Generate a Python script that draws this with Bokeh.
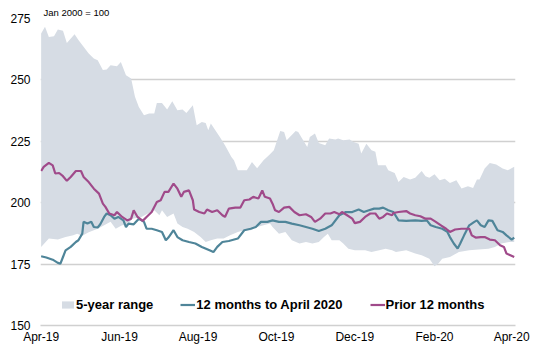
import numpy as np
from bokeh.plotting import figure
from bokeh.models import (FixedTicker, DatetimeTickFormatter, Legend, LegendItem, Range1d)
from bokeh.embed import file_html
from bokeh.resources import INLINE

# ---- data (day offsets from 2019-04-01, index Jan 2000 = 100) ----
upper_days = [0,3,6,10,13,17,20,26,29,37,41,44,48,51,54,59,62,66,70,73,76,80,84,88,90,94,98,102,106,110,
              113,118,121,125,128,130,132,139,143,148,150,153,160,164,168,173,178,181,186,189,191,198,200,203,
              207,209,213,216,221,224,229,231,235,240,243,247,249,253,257,260,262,268,270,275,278,282,287,291,
              296,299,302,306,310,314,318,323,327,332,336,339,341,345,349,354,359,363,368]
upper_vals = [268.9,271.6,267.5,267.8,270.5,270.0,265.0,268.6,266.2,260.7,258.7,258.0,254.0,254.2,256.0,255.6,
              257.3,251.9,250.6,243.1,239.0,235.6,236.3,236.3,240.6,240.6,237.9,241.3,237.6,237.9,236.5,239.7,
              231.5,232.9,232.5,229.5,232.2,226.8,223.4,218.6,217.3,213.2,213.2,216.6,214.0,217.3,219.7,221.4,
              229.2,228.8,225.4,229.2,228.8,226.1,222.7,226.8,228.2,224.3,223.4,226.1,225.7,226.1,225.4,225.7,
              224.7,224.0,220.0,224.0,221.4,220.7,215.2,215.2,213.2,212.1,208.4,210.5,209.4,210.2,212.9,210.8,
              210.2,211.6,209.1,209.8,208.0,209.1,205.8,206.7,206.0,209.4,209.4,213.9,216.2,215.6,213.9,213.2,214.6]

lower_days = [0,6,13,19,25,28,32,37,44,49,54,58,63,67,71,78,83,88,92,94,98,103,106,110,114,119,124,128,132,137,
              142,147,153,158,163,168,173,178,180,185,190,195,201,206,211,216,220,223,226,232,235,239,244,252,257,
              263,268,273,276,284,291,296,302,306,309,312,318,325,333,340,348,353,358,364,368]
lower_vals = [182.0,185.4,185.0,186.0,186.7,187.4,186.5,188.0,189.4,190.8,192.2,189.4,190.8,191.0,193.5,194.2,
              195.6,196.9,194.9,196.9,194.2,195.6,191.5,190.1,189.4,188.1,186.0,184.0,184.7,185.4,185.4,186.7,
              188.1,188.8,188.8,190.1,190.8,191.5,190.1,187.4,188.1,184.7,183.4,184.0,183.4,184.0,186.0,187.4,
              184.7,184.7,183.4,181.3,180.6,180.6,179.9,180.6,181.3,180.6,179.9,180.6,179.3,178.6,177.2,174.1,
              175.2,177.2,177.9,179.9,180.6,180.9,181.3,182.0,183.4,184.0,184.0]

recent_days = [0,4,9,13,15,17,19,23,27,29,32,33,36,39,41,44,46,49,51,54,57,60,64,66,68,72,76,80,82,86,90,94,97,99,
               103,106,110,115,120,125,131,134,137,141,146,153,158,163,167,171,176,180,185,190,195,201,206,211,216,
               221,226,232,237,242,247,251,255,259,263,266,270,274,278,284,291,296,300,303,307,312,316,318,321,324,
               326,329,333,337,339,342,345,348,351,355,359,362,366,368]
recent_vals = [178.2,177.7,176.8,175.5,175.2,177.9,180.6,182.0,184.0,184.7,187.4,192.2,191.5,192.2,190.1,189.9,
               191.2,194.2,195.6,194.9,193.5,194.2,192.8,190.1,191.5,191.2,193.5,192.2,189.4,189.4,188.8,188.1,
               184.7,185.8,188.8,186.0,184.7,184.0,183.4,182.0,180.6,179.9,182.0,184.0,184.4,185.4,188.8,189.4,
               190.1,192.2,192.2,192.8,192.2,192.2,191.5,190.8,190.1,189.4,188.5,189.4,190.8,194.9,196.2,196.2,
               197.2,196.2,196.9,197.6,197.6,198.0,196.9,196.2,192.8,192.6,192.8,192.6,192.8,190.8,190.1,189.4,
               188.1,186.0,183.4,181.3,183.4,186.7,190.8,192.2,192.8,190.8,190.1,192.8,192.6,188.8,188.1,186.7,
               185.0,185.8]

prior_days = [0,2,6,9,11,14,17,20,23,27,31,33,37,41,45,48,50,53,57,59,63,67,70,72,75,79,82,86,90,93,96,99,103,106,
              109,111,115,118,119,123,127,129,133,137,141,143,146,151,155,158,162,165,169,172,174,178,180,182,185,
              189,193,197,201,206,210,213,217,221,225,228,232,234,238,242,244,248,252,256,260,263,266,269,273,274,
              278,284,287,291,295,299,303,307,311,315,318,322,327,333,335,338,342,345,349,353,357,360,362,365,368]
prior_vals = [212.9,214.6,216.2,215.2,211.9,212.1,210.8,208.9,210.5,212.9,212.9,210.5,208.4,205.7,203.7,199.6,
              198.3,195.6,194.9,196.2,194.2,192.8,193.5,196.9,194.2,192.6,194.2,196.2,200.3,201.0,204.4,204.4,
              207.8,205.7,202.4,204.4,205.0,201.0,197.2,196.2,195.6,197.2,196.2,196.9,194.9,194.2,197.6,198.0,
              198.0,201.0,201.3,202.4,201.7,205.0,202.4,201.7,199.6,196.9,196.2,198.0,198.3,196.2,194.9,195.3,
              194.2,192.2,193.5,195.6,195.6,196.2,195.3,196.2,194.9,193.5,191.7,192.2,194.2,195.6,195.6,193.5,
              194.2,195.6,194.9,195.8,196.2,196.6,195.6,194.9,194.5,193.5,193.5,192.2,190.8,189.4,188.1,189.1,
              189.4,189.4,186.7,185.8,186.0,186.0,185.0,184.7,182.7,182.0,179.3,178.6,177.9]

tick_dates = ["2019-04-01", "2019-06-01", "2019-08-01", "2019-10-01", "2019-12-01", "2020-02-01", "2020-04-01"]
y_ticks = [150, 175, 200, 225, 250, 275]
series_names = ["5-year range", "12 months to April 2020", "Prior 12 months"]
note_text = "Jan 2000 = 100"

START = np.datetime64("2019-04-01")


def to_dates(days):
    return START + np.array(days, dtype="timedelta64[D]")


def ms(d):
    return np.datetime64(d, "ms").astype(np.int64)


FONT = "Liberation Sans"
AREA = "#D6DCE4"
BLUE = "#4F8599"
PINK = "#A04A8A"

p = figure(width=533, height=348, x_axis_type="datetime", output_backend="svg", toolbar_location=None,
           min_border_left=40, min_border_right=18, min_border_top=18, min_border_bottom=23)
p.x_range = Range1d(ms("2019-04-01") - 12 * 3600 * 1000, ms("2020-04-04"))
p.y_range = Range1d(150, 275)
p.outline_line_color = None
p.background_fill_color = "white"
p.border_fill_color = "white"

# note above the plot area, aligned with its left edge
p.title.text = note_text
p.title.align = "left"
p.title.offset = 3
p.title.standoff = 2
p.title.text_font = FONT
p.title.text_font_size = "9.5px"
p.title.text_font_style = "normal"
p.title.text_color = "#000000"

ud = to_dates(upper_days)
ld = to_dates(lower_days)
px = np.concatenate([ud, ld[::-1]])
py = np.concatenate([np.array(upper_vals), np.array(lower_vals)[::-1]])
r_area = p.patch(px, py, fill_color=AREA, line_color=None)
r_blue = p.line(to_dates(recent_days), recent_vals, line_color=BLUE, line_width=2.2)
r_pink = p.line(to_dates(prior_days), prior_vals, line_color=PINK, line_width=2.2)

# axes
p.xaxis.ticker = FixedTicker(ticks=[int(ms(d)) for d in tick_dates])
p.xaxis.formatter = DatetimeTickFormatter(days="%b-%y", months="%b-%y", years="%b-%y")
p.xaxis.axis_line_color = "#D0D0D0"
p.xaxis.axis_line_width = 1.5
p.xaxis.major_tick_line_color = None
p.xaxis.minor_tick_line_color = None
p.xaxis.major_tick_out = 0
p.xaxis.major_tick_in = 0
p.xaxis.minor_tick_out = 0
p.xaxis.major_label_standoff = 4
p.xaxis.major_label_text_font = FONT
p.xaxis.major_label_text_font_size = "12px"
p.xaxis.major_label_text_color = "#000000"

p.yaxis.ticker = FixedTicker(ticks=y_ticks)
p.yaxis.axis_line_color = None
p.yaxis.major_tick_line_color = None
p.yaxis.minor_tick_line_color = None
p.yaxis.major_tick_out = 0
p.yaxis.major_tick_in = 0
p.yaxis.minor_tick_out = 0
p.yaxis.major_label_standoff = 10
p.yaxis.major_label_text_font = FONT
p.yaxis.major_label_text_font_size = "12px"
p.yaxis.major_label_text_color = "#000000"

p.xgrid.visible = False
p.ygrid.ticker = FixedTicker(ticks=[t for t in y_ticks if t > 150])
p.ygrid.grid_line_color = "#D0D0D0"
p.ygrid.grid_line_width = 1.5

legend = Legend(items=[LegendItem(label=series_names[0], renderers=[r_area]),
                       LegendItem(label=series_names[1], renderers=[r_blue]),
                       LegendItem(label=series_names[2], renderers=[r_pink])],
                orientation="horizontal", location=(20, 13), padding=0, margin=0, spacing=27,
                glyph_width=15, glyph_height=9, label_standoff=1, label_height=12,
                label_text_font=FONT, label_text_font_style="bold", label_text_font_size="13px",
                label_text_color="#000000", border_line_color=None, background_fill_alpha=0)
p.add_layout(legend, "center")

open("out.html", "w").write(file_html(p, INLINE))
